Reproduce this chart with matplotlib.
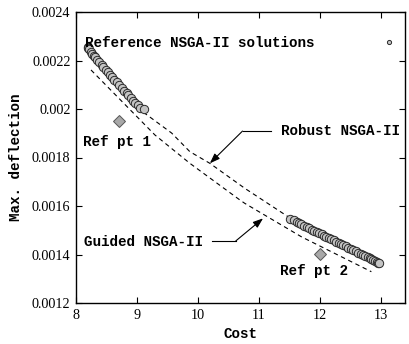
import matplotlib
matplotlib.use("Agg")
import matplotlib.pyplot as plt

plt.rcParams['lines.scale_dashes'] = False

# Reference NSGA-II solutions (cluster 1 and cluster 2)
ref_cost = [8.19, 8.20, 8.21, 8.24, 8.27, 8.29, 8.31, 8.35, 8.38, 8.42, 8.45, 8.49,
            8.52, 8.56, 8.59, 8.63, 8.67, 8.71, 8.75, 8.79, 8.83, 8.86, 8.90, 8.94,
            8.97, 9.01, 9.05, 9.11,
            11.52, 11.57, 11.62, 11.66, 11.70, 11.74, 11.79, 11.83, 11.87, 11.91,
            11.95, 11.99, 12.03, 12.07, 12.11, 12.15, 12.19, 12.23, 12.27, 12.31,
            12.35, 12.39, 12.43, 12.47, 12.51, 12.55, 12.59, 12.63, 12.67, 12.71,
            12.75, 12.79, 12.82, 12.85, 12.88, 12.91, 12.94, 12.96, 12.98]
ref_defl = [0.002256, 0.002250, 0.002246, 0.002235, 0.002226, 0.002219, 0.002213,
            0.002201, 0.002193, 0.002182, 0.002172, 0.002162, 0.002153, 0.002141,
            0.002132, 0.002120, 0.002110, 0.002099, 0.002088, 0.002076, 0.002065,
            0.002057, 0.002046, 0.002034, 0.002025, 0.002015, 0.002006, 0.001998,
            0.001547, 0.001541, 0.001534, 0.001529, 0.001524, 0.001519, 0.001513,
            0.001508, 0.001503, 0.001498, 0.001493, 0.001488, 0.001483, 0.001478,
            0.001473, 0.001468, 0.001463, 0.001458, 0.001453, 0.001448, 0.001443,
            0.001438, 0.001433, 0.001428, 0.001423, 0.001418, 0.001413, 0.001408,
            0.001403, 0.001398, 0.001393, 0.001388, 0.001384, 0.001380, 0.001377,
            0.001373, 0.001369, 0.001367, 0.001364]

# Robust NSGA-II front (upper dashed)
robust_cost = [9.00, 9.098, 9.569, 9.869, 10.197, 10.770, 11.480, 12.164, 12.984]
robust_defl = [0.002006, 0.001988, 0.001901, 0.001824, 0.001776, 0.001673, 0.001556, 0.001460, 0.001365]

# Guided NSGA-II front (lower dashed)
guided_cost = [8.246, 9.295, 9.869, 10.689, 10.770, 11.700, 12.848]
guided_defl = [0.002161, 0.001893, 0.001776, 0.001625, 0.001611, 0.001473, 0.001329]

# Reference points
refpt_cost = [8.70, 12.0]
refpt_defl = [0.001952, 0.001402]
refpt_labels = ["Ref pt 1", "Ref pt 2"]

xticks = [8, 9, 10, 11, 12, 13]
yticks = [0.0012, 0.0014, 0.0016, 0.0018, 0.002, 0.0022, 0.0024]
ytick_labels = ["0.0012", "0.0014", "0.0016", "0.0018", "0.002", "0.0022", "0.0024"]

mono = dict(family="Liberation Mono", fontweight="bold", fontsize=10.3)
serif = "Liberation Serif"

fig = plt.figure(figsize=(4.09, 3.44), dpi=100)
ax = fig.add_axes([76/409, 1-303/344, 329/409, 291/344])

ax.plot(robust_cost, robust_defl, color="black", lw=0.8, dashes=(3.2, 2.6), zorder=2)
ax.plot(guided_cost, guided_defl, color="black", lw=0.8, dashes=(3.2, 2.6), zorder=2)

ax.plot(ref_cost, ref_defl, linestyle="none", marker="o", ms=6.0,
        mfc="#c4c4c4", mec="#2a2a2a", mew=0.7, zorder=3,
        label="Reference NSGA-II solutions")
ax.plot(refpt_cost, refpt_defl, linestyle="none", marker="D", ms=6.3,
        mfc="#a8a8a8", mec="#555555", mew=0.7, zorder=3)

ax.set_xlim(8, 13.4)
ax.set_ylim(0.0012, 0.0024)
ax.set_xticks(xticks)
ax.set_xticklabels([str(t) for t in xticks], fontfamily=serif, fontsize=10.2)
ax.set_yticks(yticks)
ax.set_yticklabels(ytick_labels, fontfamily=serif, fontsize=10.2)
ax.tick_params(direction="in", top=True, right=True, length=4.5, width=0.8, pad=4)
for s in ax.spines.values():
    s.set_linewidth(1.0)

ax.set_xlabel("Cost", labelpad=4, **mono)
ax.set_ylabel("Max. deflection", labelpad=6, **mono)

leg = ax.legend(loc="center left", bbox_to_anchor=((85-76)/329, (303-43)/291),
                frameon=False, markerfirst=False, borderpad=0, borderaxespad=0,
                handlelength=0.4, handletextpad=5.0, markerscale=0.5,
                prop=dict(family="Liberation Mono", weight="bold", size=10.3))

# Reference point labels
ax.text(8.11, 0.001865, refpt_labels[0], ha="left", va="center", **mono)
ax.text(11.344, 0.001333, refpt_labels[1], ha="left", va="center", **mono)

# Robust label & arrow
ax.text(11.36, 0.00191, "Robust NSGA-II", ha="left", va="center", **mono)
ax.plot([11.208, 10.733], [0.001909, 0.001909], color="black", lw=0.8)
ax.annotate("", xy=(10.197, 0.001776), xytext=(10.733, 0.001909),
            arrowprops=dict(arrowstyle="-|>,head_length=0.6,head_width=0.22",
                            color="black", lw=0.8, shrinkA=0, shrinkB=0))

# Guided label & arrow
ax.text(8.136, 0.001453, "Guided NSGA-II", ha="left", va="center", **mono)
ax.plot([10.225, 10.623], [0.001456, 0.001456], color="black", lw=0.8)
ax.annotate("", xy=(11.07, 0.001549), xytext=(10.623, 0.001456),
            arrowprops=dict(arrowstyle="-|>,head_length=0.6,head_width=0.22",
                            color="black", lw=0.8, shrinkA=0, shrinkB=0))

fig.savefig("out.png", dpi=100)
